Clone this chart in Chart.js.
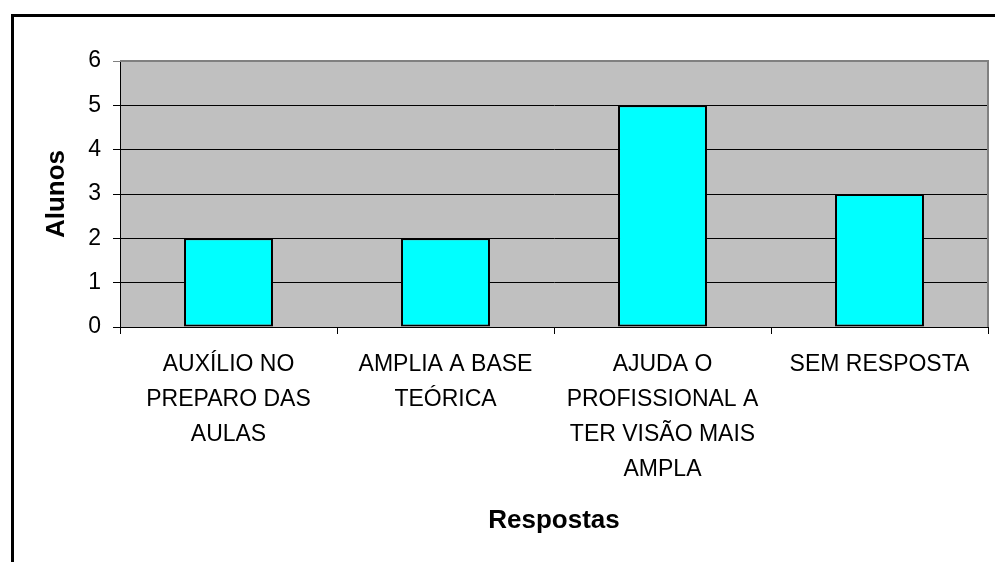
<!DOCTYPE html>
<html>
<head>
<meta charset="utf-8">
<script src="https://cdn.jsdelivr.net/npm/chart.js@4"></script>
<style>
  html, body { margin: 0; padding: 0; background: #fff; }
  canvas { display: block; }
</style>
</head>
<body>
<canvas id="chart" width="995" height="562"></canvas>
<script>
const categories = [
  ['AUXÍLIO NO', 'PREPARO DAS', 'AULAS'],
  ['AMPLIA A BASE', 'TEÓRICA'],
  ['AJUDA O', 'PROFISSIONAL A', 'TER VISÃO MAIS', 'AMPLA'],
  'SEM RESPOSTA'
];
const alunos = [2, 2, 5, 3];
const yMin = 0;
const yMax = 6;

const FONT = '"Liberation Sans", Arial, sans-serif';

// fundo branco, moldura e área cinza do gráfico
const frame = {
  id: 'frame',
  beforeDraw(chart) {
    const c = chart.ctx;
    const a = chart.chartArea;
    c.save();
    c.fillStyle = '#fff';
    c.fillRect(0, 0, chart.width, chart.height);
    c.strokeStyle = '#000';
    c.lineWidth = 3;
    c.strokeRect(12.5, 15.5, 1100, 1100);
    c.fillStyle = '#c0c0c0';
    c.fillRect(a.left, a.top, a.right - a.left, a.bottom - a.top);
    c.restore();
  },
  afterDraw(chart) {
    const c = chart.ctx;
    const a = chart.chartArea;
    c.save();
    c.strokeStyle = '#808080';
    c.lineWidth = 2;
    c.beginPath();
    c.moveTo(a.left, a.top);
    c.lineTo(a.right, a.top);
    c.lineTo(a.right, a.bottom);
    c.stroke();
    c.restore();
  }
};

new Chart(document.getElementById('chart'), {
  type: 'bar',
  data: {
    labels: categories,
    datasets: [{
      label: 'Alunos',
      data: alunos,
      backgroundColor: '#00ffff',
      borderColor: '#000',
      borderWidth: 2,
      borderSkipped: false,
      categoryPercentage: 1,
      barPercentage: 0.41
    }]
  },
  options: {
    responsive: false,
    animation: false,
    layout: { padding: { top: 61, right: 7, left: 0, bottom: 0 } },
    plugins: {
      legend: { display: false },
      tooltip: { enabled: false }
    },
    scales: {
      x: {
        afterFit(scale) { scale.height = 235; },
        grid: { drawOnChartArea: false, drawTicks: true, tickLength: 7, color: '#000' },
        border: { color: '#000', width: 1 },
        ticks: {
          maxRotation: 0, minRotation: 0, autoSkip: false, padding: 13,
          color: '#000',
          font: { family: FONT, size: 23, lineHeight: '35px' }
        },
        title: {
          display: true, text: 'Respostas', color: '#000',
          font: { family: FONT, size: 26, weight: 'bold' },
          padding: { top: 0, bottom: 26 }
        }
      },
      y: {
        min: yMin, max: yMax,
        afterFit(scale) { scale.width = 120; },
        grid: {
          tickLength: 7,
          color: (ctx) => ctx.tick && ctx.tick.value === yMax ? '#808080' : '#000'
        },
        border: { color: '#000', width: 1 },
        ticks: {
          stepSize: 1, padding: 12, color: '#000',
          font: { family: FONT, size: 23 }
        },
        title: {
          display: true, text: 'Alunos', color: '#000',
          font: { family: FONT, size: 26, weight: 'bold' },
          padding: { top: 41, bottom: 0 }
        }
      }
    }
  },
  plugins: [frame]
});
</script>
</body>
</html>
